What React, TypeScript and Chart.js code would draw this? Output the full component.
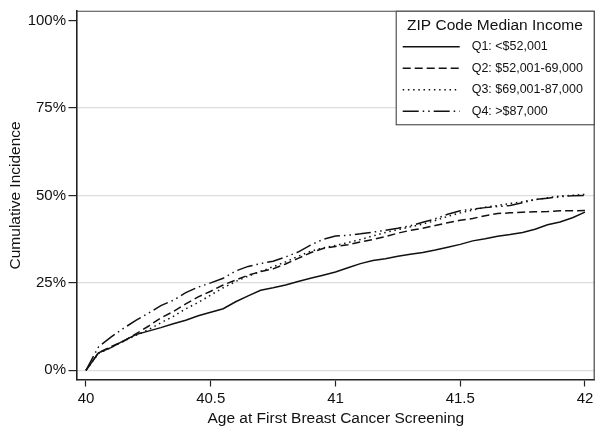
import { useEffect, useRef } from "react";
import { Chart, registerables } from "chart.js";

Chart.register(...registerables);

// ---- Data ----
const ages = [
  40.0, 40.05, 40.1, 40.15, 40.2, 40.25, 40.3, 40.35, 40.4, 40.45,
  40.5, 40.55, 40.6, 40.65, 40.7, 40.75, 40.8, 40.85, 40.9, 40.95,
  41.0, 41.05, 41.1, 41.15, 41.2, 41.25, 41.3, 41.35, 41.4, 41.45,
  41.5, 41.55, 41.6, 41.65, 41.7, 41.75, 41.8, 41.85, 41.9, 41.95, 42.0,
];

const q1 = [
  0, 5.0, 6.5, 8.4, 10.2, 11.2, 12.2, 13.3, 14.3, 15.6,
  16.6, 17.6, 19.6, 21.3, 22.9, 23.6, 24.4, 25.4, 26.3, 27.2,
  28.1, 29.3, 30.5, 31.4, 31.9, 32.6, 33.2, 33.7, 34.4, 35.2,
  36.0, 37.0, 37.6, 38.3, 38.8, 39.4, 40.3, 41.6, 42.4, 43.6, 45.2,
];

const q2 = [
  0, 5.0, 6.8, 8.3, 10.4, 12.6, 15.0, 16.8, 19.0, 21.0,
  22.6, 24.4, 25.8, 27.2, 28.2, 29.0, 30.4, 32.0, 33.6, 34.8,
  35.4, 35.9, 36.7, 37.4, 38.2, 39.2, 40.0, 40.6, 41.4, 42.2,
  42.9, 43.4, 44.2, 44.8, 45.0, 45.2, 45.3, 45.4, 45.6, 45.6, 45.7,
];

const q3 = [
  0, 4.8, 6.5, 8.3, 10.0, 11.6, 13.6, 15.4, 17.6, 19.4,
  21.5, 23.6, 25.4, 26.9, 28.3, 29.6, 31.0, 32.6, 34.0, 35.0,
  35.7, 36.5, 37.4, 38.4, 39.4, 40.2, 41.0, 41.8, 42.8, 44.0,
  45.0, 45.8, 46.6, 47.1, 47.7, 48.2, 48.8, 49.3, 49.8, 50.0, 50.3,
];

const q4 = [
  0, 6.7, 9.5, 12.0, 14.3, 16.3, 18.5, 20.0, 22.2, 23.8,
  25.0, 26.3, 28.4, 29.7, 30.5, 31.2, 32.4, 33.8, 35.8, 37.4,
  38.4, 38.6, 39.0, 39.5, 40.0, 40.6, 41.3, 42.3, 43.3, 44.6,
  45.6, 46.1, 46.5, 46.8, 47.1, 47.9, 48.8, 49.2, 49.6, 49.9, 50.0,
];

const seriesLabels = [
  "Q1: <$52,001",
  "Q2: $52,001-69,000",
  "Q3: $69,001-87,000",
  "Q4: >$87,000",
];
const legendTitle = "ZIP Code Median Income";
const xTitle = "Age at First Breast Cancer Screening";
const yTitle = "Cumulative Incidence";
const xTickValues = [40, 40.5, 41, 41.5, 42];
const yTickValues = [0, 25, 50, 75, 100];

// ---- Styles ----
const FONT = "'Liberation Sans', Arial, Helvetica, sans-serif";
const LINE_COLOR = "#111111";
const dashes: number[][] = [[], [8, 4], [1.5, 3.7], [16, 4, 1.5, 4, 1.5, 4]];

const frameLegendPlugin = {
  id: "frameLegend",
  afterDraw(chart: any) {
    const { ctx, chartArea: a } = chart;
    ctx.save();
    // top & right frame
    ctx.strokeStyle = "#444444";
    ctx.lineWidth = 1.2;
    ctx.beginPath();
    ctx.moveTo(a.left, a.top + 0.5);
    ctx.lineTo(a.right - 0.5, a.top + 0.5);
    ctx.lineTo(a.right - 0.5, a.bottom);
    ctx.stroke();

    // legend box
    const lr = a.right - 0.5;
    const ll = a.right - 199;
    const lt = a.top + 0.5;
    const lb = a.top + 114;
    ctx.fillStyle = "#ffffff";
    ctx.fillRect(ll, lt, lr - ll, lb - lt);
    ctx.strokeStyle = "#444444";
    ctx.lineWidth = 1.1;
    ctx.strokeRect(ll + 0.5, lt, lr - ll - 0.5, lb - lt);

    ctx.fillStyle = "#111111";
    ctx.textBaseline = "middle";
    ctx.textAlign = "center";
    ctx.font = `15.5px ${FONT}`;
    ctx.fillText(legendTitle, (ll + lr) / 2, a.top + 14.5);

    const rowY = [36, 57.5, 79, 100.5];
    ctx.font = `12.5px ${FONT}`;
    ctx.textAlign = "left";
    seriesLabels.forEach((lab, i) => {
      const y = a.top + rowY[i];
      ctx.save();
      ctx.strokeStyle = LINE_COLOR;
      ctx.lineWidth = 1.4;
      ctx.setLineDash(dashes[i]);
      ctx.beginPath();
      ctx.moveTo(ll + 7, y);
      ctx.lineTo(ll + 64, y);
      ctx.stroke();
      ctx.restore();
      ctx.fillText(lab, ll + 76, y);
    });
    ctx.restore();
  },
};

export default function App() {
  const canvasRef = useRef<HTMLCanvasElement | null>(null);

  useEffect(() => {
    const canvas = canvasRef.current;
    if (!canvas) return;
    const seriesValues = [q1, q2, q3, q4];
    const chart = new Chart(canvas, {
      type: "line",
      data: {
        datasets: seriesValues.map((vals, i) => ({
          label: seriesLabels[i],
          data: ages.map((x, j) => ({ x, y: vals[j] })),
          borderColor: LINE_COLOR,
          borderWidth: 1.5,
          borderDash: dashes[i],
          pointRadius: 0,
          tension: 0,
          fill: false,
        })),
      },
      options: {
        responsive: false,
        animation: false,
        devicePixelRatio: 1,
        layout: { padding: { top: 9, right: 9.3, left: 0, bottom: 0 } },
        plugins: {
          legend: { display: false },
          tooltip: { enabled: false },
          title: { display: false },
        },
        scales: {
          x: {
            type: "linear",
            min: 39.964,
            max: 42.039,
            afterFit: (s: any) => {
              s.height = 57;
            },
            afterBuildTicks: (s: any) => {
              s.ticks = xTickValues.map((v) => ({ value: v }));
            },
            ticks: {
              callback: (v: any) => String(v),
              color: "#111111",
              font: { family: FONT, size: 15 },
              padding: 3.5,
              maxRotation: 0,
              autoSkip: false,
            },
            grid: {
              drawOnChartArea: false,
              drawTicks: true,
              tickLength: 6.5,
              tickColor: "#222222",
              tickWidth: 1.2,
            },
            border: { display: true, color: "#222222", width: 1.6 },
            title: {
              display: true,
              text: xTitle,
              color: "#111111",
              font: { family: FONT, size: 15.5, lineHeight: 1.2 },
              padding: { top: 0, bottom: 8.7 },
            },
          },
          y: {
            type: "linear",
            min: -2.76,
            max: 102.76,
            afterFit: (s: any) => {
              s.width = 77;
            },
            afterBuildTicks: (s: any) => {
              s.ticks = yTickValues.map((v) => ({ value: v }));
            },
            ticks: {
              callback: (v: any) => `${v}%`,
              color: "#111111",
              font: { family: FONT, size: 15, lineHeight: 1.1 },
              padding: 2.5,
              autoSkip: false,
            },
            grid: {
              color: (c: any) =>
                c.tick && c.tick.value === 100 ? "rgba(0,0,0,0)" : "#dddddd",
              lineWidth: 1.2,
              drawTicks: true,
              tickLength: 8.5,
              tickColor: "#222222",
              tickWidth: 1.2,
            },
            border: { display: true, color: "#222222", width: 1.6 },
            title: {
              display: true,
              text: yTitle,
              color: "#111111",
              font: { family: FONT, size: 15.5, lineHeight: 1.2 },
              padding: { top: 6.7, bottom: 0 },
            },
          },
        },
      },
      plugins: [frameLegendPlugin],
    });
    return () => chart.destroy();
  }, []);

  return (
    <div style={{ position: "fixed", left: 0, top: 0, width: 604, height: 437, background: "#fff" }}>
      <canvas ref={canvasRef} width={604} height={437} style={{ display: "block" }} />
    </div>
  );
}
